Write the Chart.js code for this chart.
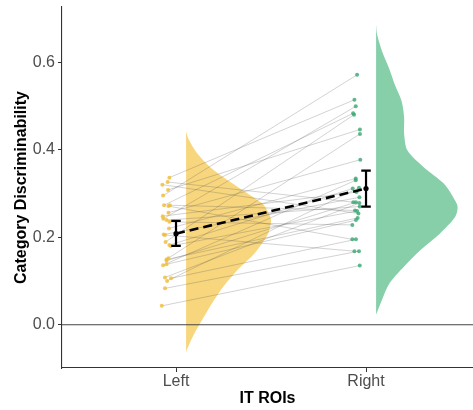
<!DOCTYPE html>
<html lang="en">

<head>
    <meta charset="utf-8">
    <title>IT ROIs</title>
    <script src="https://cdn.jsdelivr.net/npm/chart.js@4.4.1/dist/chart.umd.min.js"></script>
    <style>
        body { margin: 0; background: #fff; }
        #chart { display: block; }
    </style>
</head>

<body>
    <canvas id="chart" width="473" height="410"></canvas>

    <script>
        // categories on the x axis
        const categories = ['Left', 'Right'];
        const yTickValues = [0, 0.2, 0.4, 0.6];

        // per subject values, same order in both lists (one line per subject)
        const leftValues = [0.336, 0.326, 0.320, 0.308, 0.295, 0.273, 0.273, 0.271, 0.256, 0.248,
            0.242, 0.239, 0.235, 0.220, 0.206, 0.205, 0.189, 0.182, 0.180, 0.152,
            0.149, 0.146, 0.138, 0.136, 0.108, 0.106, 0.100, 0.083, 0.043];
        const rightValues = [0.514, 0.280, 0.254, 0.446, 0.571, 0.483, 0.261, 0.195, 0.377, 0.303,
            0.499, 0.270, 0.228, 0.334, 0.291, 0.168, 0.480, 0.311, 0.260, 0.436,
            0.244, 0.280, 0.239, 0.330, 0.278, 0.195, 0.313, 0.168, 0.135];

        // horizontal jitter of the dots (offset from the category)
        const leftJitter = [-0.035, -0.044, -0.072, -0.042, -0.068, -0.063, -0.032, -0.040, -0.040, -0.070,
            -0.067, -0.050, -0.035, -0.037, -0.065, -0.058, -0.055, -0.035, -0.028, -0.040,
            -0.050, -0.050, -0.050, -0.068, -0.058, -0.026, -0.047, -0.058, -0.075];
        const rightJitter = [-0.061, -0.067, -0.040, -0.032, -0.047, -0.068, -0.058, -0.072, -0.030, -0.050,
            -0.054, -0.033, -0.072, -0.054, -0.035, -0.061, -0.063, -0.070, -0.047, -0.032,
            -0.044, -0.053, -0.053, -0.054, -0.035, -0.053, -0.037, -0.037, -0.033];

        // group means and error bars
        const groupMeans = [0.208, 0.311];
        const errLower = [0.180, 0.270];
        const errUpper = [0.237, 0.352];

        // half violin profiles (relative density at each y value)
        const leftViolinY = [0.441, 0.422, 0.392, 0.354, 0.316, 0.278, 0.263, 0.240, 0.217, 0.202,
            0.164, 0.126, 0.087, 0.050, 0.011, -0.027, -0.057, -0.064];
        const leftViolinDensity = [0, 0.035, 0.13, 0.32, 0.60, 0.89, 0.95, 1.0, 0.98, 0.95,
            0.81, 0.61, 0.44, 0.31, 0.19, 0.08, 0.01, 0];
        const rightViolinY = [0.686, 0.663, 0.625, 0.587, 0.549, 0.511, 0.473, 0.436, 0.398, 0.360,
            0.322, 0.284, 0.269, 0.246, 0.208, 0.170, 0.133, 0.095, 0.057, 0.023];
        const rightViolinDensity = [0, 0.012, 0.07, 0.15, 0.22, 0.30, 0.33, 0.33, 0.37, 0.56,
            0.80, 0.93, 0.96, 0.93, 0.75, 0.52, 0.33, 0.16, 0.07, 0];

        const xMin = 0.4, xMax = 2.563;
        const violinOffset = 0.053;
        const violinWidth = 0.447;
        const capHalf = 0.025;

        function violinShape(pos, ys, dens) {
            return ys.map((y, i) => ({ x: pos + violinOffset + dens[i] * violinWidth, y: y }));
        }

        function noPadding(scale) {
            scale.paddingTop = 0;
            scale.paddingBottom = 0;
            scale.paddingLeft = 0;
            scale.paddingRight = 0;
        }

        const datasets = [];

        // error bars + mean dots (on top)
        for (let i = 0; i < categories.length; i++) {
            const c = i + 1;
            datasets.push({
                type: 'line',
                data: [
                    { x: c - capHalf, y: errUpper[i] }, { x: c + capHalf, y: errUpper[i] }, { x: null, y: null },
                    { x: c, y: errUpper[i] }, { x: c, y: errLower[i] }, { x: null, y: null },
                    { x: c - capHalf, y: errLower[i] }, { x: c + capHalf, y: errLower[i] }
                ],
                borderColor: '#000',
                borderWidth: 2.2,
                pointRadius: 0,
                spanGaps: false
            });
        }
        datasets.push({
            type: 'scatter',
            data: groupMeans.map((m, i) => ({ x: i + 1, y: m })),
            backgroundColor: '#000',
            pointRadius: 2.6,
            borderWidth: 0
        });
        datasets.push({
            type: 'line',
            data: groupMeans.map((m, i) => ({ x: i + 1, y: m })),
            borderColor: '#000',
            borderWidth: 2.6,
            borderDash: [9, 5],
            pointRadius: 0
        });

        // subject dots
        datasets.push({
            type: 'scatter',
            data: leftValues.map((v, i) => ({ x: 1 + leftJitter[i], y: v })),
            backgroundColor: 'rgba(240, 188, 55, 0.8)',
            pointRadius: 2,
            borderWidth: 0
        });
        datasets.push({
            type: 'scatter',
            data: rightValues.map((v, i) => ({ x: 2 + rightJitter[i], y: v })),
            backgroundColor: 'rgba(55, 168, 112, 0.8)',
            pointRadius: 2,
            borderWidth: 0
        });

        // paired lines
        leftValues.forEach((v, i) => {
            datasets.push({
                type: 'line',
                data: [{ x: 1 + leftJitter[i], y: v }, { x: 2 + rightJitter[i], y: rightValues[i] }],
                borderColor: 'rgba(80, 80, 80, 0.25)',
                borderWidth: 1,
                pointRadius: 0
            });
        });

        // zero reference line
        datasets.push({
            type: 'line',
            data: [{ x: xMin, y: 0 }, { x: xMax, y: 0 }],
            borderColor: '#444',
            borderWidth: 1.1,
            pointRadius: 0
        });

        // half violins (bottom)
        datasets.push({
            type: 'line',
            data: violinShape(1, leftViolinY, leftViolinDensity),
            borderWidth: 0,
            borderColor: 'rgba(0,0,0,0)',
            backgroundColor: '#F7D67E',
            fill: 'shape',
            tension: 0.3,
            pointRadius: 0
        });
        datasets.push({
            type: 'line',
            data: violinShape(2, rightViolinY, rightViolinDensity),
            borderWidth: 0,
            borderColor: 'rgba(0,0,0,0)',
            backgroundColor: '#86CFA9',
            fill: 'shape',
            tension: 0.3,
            pointRadius: 0
        });

        const tickFont = { family: 'Liberation Sans, Arial, sans-serif', size: 16 };
        const titleFont = { family: 'Liberation Sans, Arial, sans-serif', size: 16, weight: 'bold' };

        new Chart(document.getElementById('chart'), {
            type: 'scatter',
            data: { datasets: datasets },
            options: {
                responsive: false,
                devicePixelRatio: 1,
                animation: false,
                layout: { autoPadding: false, padding: { top: 7, right: 0, left: 0, bottom: 0 } },
                plugins: {
                    legend: { display: false },
                    tooltip: { enabled: false }
                },
                scales: {
                    x: {
                        type: 'linear',
                        min: xMin,
                        max: xMax,
                        afterBuildTicks: scale => { scale.ticks = categories.map((c, i) => ({ value: i + 1 })); },
                        afterFit: scale => { scale.height = 42; noPadding(scale); },
                        grid: { drawOnChartArea: false, tickLength: 4, tickColor: '#333' },
                        border: { display: true, color: '#333', width: 1.1 },
                        ticks: {
                            autoSkip: false,
                            maxRotation: 0,
                            padding: 0,
                            color: '#4D4D4D',
                            font: tickFont,
                            callback: v => categories[Math.round(v) - 1]
                        },
                        title: {
                            display: true,
                            text: 'IT ROIs',
                            color: '#000',
                            font: titleFont,
                            padding: { top: 0, bottom: 2 }
                        }
                    },
                    y: {
                        min: -0.099,
                        max: 0.726,
                        afterBuildTicks: scale => { scale.ticks = yTickValues.map(v => ({ value: v })); },
                        afterFit: scale => { scale.width = 62; noPadding(scale); },
                        grid: { drawOnChartArea: false, tickLength: 4, tickColor: '#333' },
                        border: { display: true, color: '#333', width: 1.1 },
                        ticks: {
                            padding: 3,
                            color: '#4D4D4D',
                            font: tickFont,
                            callback: v => v.toFixed(1)
                        },
                        title: {
                            display: true,
                            text: 'Category Discriminability',
                            color: '#000',
                            font: titleFont,
                            padding: { top: 12, bottom: 0 }
                        }
                    }
                }
            }
        });
    </script>
</body>

</html>
